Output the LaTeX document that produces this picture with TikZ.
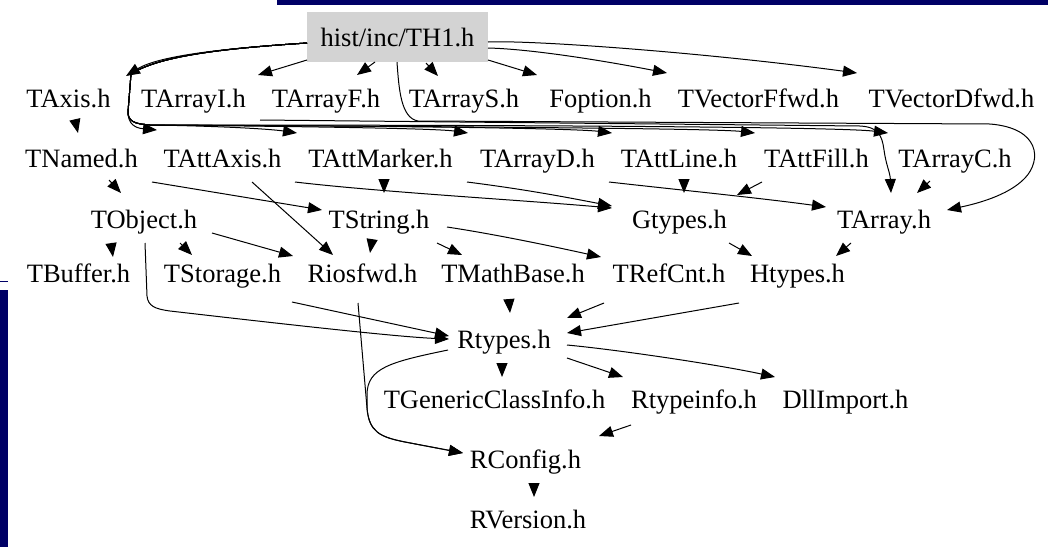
\documentclass[tikz,border=0pt]{standalone}
\usepackage{fontspec}
\setmainfont{Liberation Serif}
\usetikzlibrary{arrows.meta,calc}
\definecolor{navy}{HTML}{000066}
\definecolor{boxgray}{HTML}{D3D3D3}
\begin{document}
\begin{tikzpicture}[x=1pt,y=-1pt,
  lbl/.style={anchor=base,inner sep=0pt,font=\rmfamily\fontsize{26.5}{30}\selectfont},
  edge/.style={line width=1pt,-{Triangle[length=14pt,width=11pt]}},
  deco/.style={fill=navy},
  routeA/.style={insert path={.. controls (230,48) and (160,55) .. (131,74) -- (128,112) .. controls (128,121) and (134,124) .. (150,125)}}]
\useasboundingbox (0,0) rectangle (1048,549);
% page decorations
\fill[deco] (277,0) rectangle (1048,5);
\fill[deco] (0,290) rectangle (7.5,547);
\draw[navy,line width=1pt] (0,281.5) -- (8,281.5);

% nodes
\node[fill=boxgray,minimum width=181pt,minimum height=50pt,inner sep=0pt,font=\rmfamily\fontsize{26.5}{30}\selectfont] (th1) at (397.5,37) {hist/inc/TH1.h};

\node[lbl] (taxis)    at (68.5,107)  {TAxis.h};
\node[lbl] (tarrayi)  at (193.5,107) {TArrayI.h};
\node[lbl] (tarrayf)  at (326,107)   {TArrayF.h};
\node[lbl] (tarrays)  at (464,107)   {TArrayS.h};
\node[lbl] (foption)  at (600.5,107) {Foption.h};
\node[lbl] (tvectorf) at (758.5,107) {TVectorFfwd.h};
\node[lbl] (tvectord) at (951.5,107) {TVectorDfwd.h};

\node[lbl] (tnamed)     at (81.5,167)  {TNamed.h};
\node[lbl] (tattaxis)   at (222.5,167) {TAttAxis.h};
\node[lbl] (tattmarker) at (380.5,167) {TAttMarker.h};
\node[lbl] (tarrayd)    at (537.5,167) {TArrayD.h};
\node[lbl] (tattline)   at (679,167)   {TAttLine.h};
\node[lbl] (tattfill)   at (816.5,167) {TAttFill.h};
\node[lbl] (tarrayc)    at (955,167)   {TArrayC.h};

\node[lbl] (tobject) at (144,228)   {TObject.h};
\node[lbl] (tstring) at (379,228)   {TString.h};
\node[lbl] (gtypes)  at (679.5,228) {Gtypes.h};
\node[lbl] (tarray)  at (884,228)   {TArray.h};

\node[lbl] (tbuffer)   at (78.5,282)  {TBuffer.h};
\node[lbl] (tstorage)  at (222.5,282) {TStorage.h};
\node[lbl] (riosfwd)   at (362.5,282) {Riosfwd.h};
\node[lbl] (tmathbase) at (513,282)   {TMathBase.h};
\node[lbl] (trefcnt)   at (669,282)   {TRefCnt.h};
\node[lbl] (htypes)    at (797.5,282) {Htypes.h};

\node[lbl] (rtypes) at (504,348) {Rtypes.h};

\node[lbl] (tgeneric)  at (494.5,408) {TGenericClassInfo.h};
\node[lbl] (rtypeinfo) at (694,408)   {Rtypeinfo.h};
\node[lbl] (dllimport) at (845.5,408) {DllImport.h};

\node[lbl] (rconfig)  at (525.5,468) {RConfig.h};
\node[lbl] (rversion) at (528,528)   {RVersion.h};

% TH1 -> row 1
\draw[edge] ($(th1.center)+(-90.5,6)$) .. controls (230,48) and (160,55) .. ($(taxis.base)+(57.5,-31)$);
\draw[edge] ($(th1.center)+(-90.5,23)$) -- ($(tarrayi.base)+(64.5,-32)$);
\draw[edge] ($(th1.center)+(-22.5,25)$) -- ($(tarrayf.base)+(31,-32)$);
\draw[edge] ($(th1.center)+(28.5,26)$) -- ($(tarrays.base)+(-26,-31)$);
\draw[edge] ($(th1.center)+(90.5,23)$) -- ($(foption.base)+(-63.5,-32)$);
\draw[edge] ($(th1.center)+(90.5,11)$) .. controls (530,49) and (600,60) .. ($(tvectorf.base)+(-91.5,-34)$);
\draw[edge] ($(th1.center)+(90.5,5)$) .. controls (530,40) and (700,52) .. ($(tvectord.base)+(-94.5,-34)$);

% TH1 -> row 2 (routed round TAxis.h)
\draw[edge] ($(th1.center)+(-90.5,6)$) .. controls (230,48) and (160,55) .. (131,74) -- (128,112) .. controls (128,124) and (135,128) .. ($(tattaxis.base)+(-65.5,-37)$);
\draw[edge] ($(th1.center)+(-90.5,6)$) [routeA] .. controls (220,126) and (270,129) .. ($(tattmarker.base)+(-83.5,-34)$);
\draw[edge] ($(th1.center)+(-90.5,6)$) [routeA] .. controls (360,127) and (440,129) .. ($(tarrayd.base)+(-69.5,-34)$);
\draw[edge] ($(th1.center)+(-90.5,6)$) [routeA] .. controls (450,126) and (580,129) .. ($(tattline.base)+(-67,-34)$);
\draw[edge] ($(th1.center)+(-90.5,6)$) [routeA] .. controls (550,127) and (720,129) .. ($(tattfill.base)+(-61.5,-34)$);
\draw[edge] ($(th1.center)+(-90.5,6)$) [routeA] .. controls (650,125) and (850,128) .. ($(tarrayc.base)+(-67,-34)$);
\draw[edge] ($(th1.south)+(-0.5,0)$) .. controls (399,90) and (401,118) .. (418,121) -- (990,124) .. controls (1040,128) and (1042,160) .. (1025,178) .. controls (1008,196) and (975,204) .. ($(tarray.base)+(63,-18)$);
\draw[edge] ($(tarrayf.base)+(-66,13)$) -- (860,126) .. controls (878,127) and (882,135) .. (884,150) .. controls (886,165) and (890,172) .. ($(tarray.base)+(7,-35)$);

% row 1 -> row 2
\draw[edge] ($(taxis.base)+(6.5,13)$) -- ($(tnamed.base)+(-3.5,-34)$);

% row 2 -> row 3
\draw[edge] ($(tnamed.base)+(27.5,13)$) -- ($(tobject.base)+(-23,-35)$);
\draw[edge] ($(tnamed.base)+(70.5,15)$) -- ($(tstring.base)+(-57,-18)$);
\draw[edge] ($(tattaxis.base)+(29.5,15)$) -- ($(riosfwd.base)+(-29.5,-27)$);
\draw[edge] ($(tattmarker.base)+(3.5,13)$) -- ($(tstring.base)+(5,-35)$);
\draw[edge] ($(tattmarker.base)+(-85.5,15)$) .. controls (380,192) and (520,200) .. ($(gtypes.base)+(-67.5,-20)$);
\draw[edge] ($(tarrayd.base)+(-70.5,15)$) .. controls (530,190) and (570,198) .. ($(gtypes.base)+(-67.5,-22)$);
\draw[edge] ($(tarrayd.base)+(71.5,15)$) .. controls (680,190) and (760,198) .. ($(tarray.base)+(-58,-21)$);
\draw[edge] ($(tattline.base)+(5,13)$) -- ($(gtypes.base)+(4.5,-35)$);
\draw[edge] ($(tattfill.base)+(-54.5,15)$) -- ($(gtypes.base)+(57.5,-33)$);
\draw[edge] ($(tarrayc.base)+(-25,14)$) -- ($(tarray.base)+(33,-35)$);

% row 3 -> row 4
\draw[edge] ($(tobject.base)+(-33,15)$) -- ($(tbuffer.base)+(34.5,-25)$);
\draw[edge] ($(tobject.base)+(36,15)$) -- ($(tstorage.base)+(-30.5,-27)$);
\draw[edge] ($(tobject.base)+(68,5)$) -- ($(riosfwd.base)+(-69.5,-26)$);
\draw[edge] ($(tstring.base)+(-7,12)$) -- ($(riosfwd.base)+(7.5,-29)$);
\draw[edge] ($(tstring.base)+(58,15)$) -- ($(tmathbase.base)+(-51,-27)$);
\draw[edge] ($(tstring.base)+(68,-1)$) .. controls (500,235) and (560,248) .. ($(trefcnt.base)+(-68,-25)$);
\draw[edge] ($(gtypes.base)+(49.5,15)$) -- ($(htypes.base)+(-45.5,-26)$);
\draw[edge] ($(tarray.base)+(-33,15)$) -- ($(htypes.base)+(38.5,-26)$);

% row 4 -> Rtypes
\draw[edge] ($(tobject.base)+(1,15)$) -- (147,296) .. controls (148,306) and (155,309) .. (170,311) .. controls (300,326) and (400,337) .. ($(rtypes.base)+(-55,-9)$);
\draw[edge] ($(tstorage.base)+(69.5,20)$) -- ($(rtypes.base)+(-55,-12)$);
\draw[edge] ($(tmathbase.base)+(-4,18)$) -- ($(rtypes.base)+(6,-35)$);
\draw[edge] ($(trefcnt.base)+(-65,21)$) -- ($(rtypes.base)+(63,-30)$);
\draw[edge] ($(htypes.base)+(-58.5,21)$) -- ($(rtypes.base)+(63,-15)$);

% to RConfig
\draw[edge] ($(riosfwd.base)+(-4.5,21)$) -- (367,408) .. controls (369,432) and (380,437) .. (405,442) -- ($(rconfig.base)+(-62.5,-15)$);
\draw[edge] ($(rtypes.base)+(-56,2)$) .. controls (390,362) and (367,368) .. (367,395) -- (367,408) .. controls (369,432) and (380,437) .. (405,442) -- ($(rconfig.base)+(-62.5,-15)$);

% Rtypes -> row 6
\draw[edge] ($(rtypes.base)+(-2,16)$) -- ($(tgeneric.base)+(7.5,-31)$);
\draw[edge] ($(rtypes.base)+(63,10)$) -- ($(rtypeinfo.base)+(-71,-31)$);
\draw[edge] ($(rtypes.base)+(63,-3)$) .. controls (620,350) and (720,365) .. ($(dllimport.base)+(-70.5,-31)$);

% row 6 -> RConfig -> RVersion
\draw[edge] ($(rtypeinfo.base)+(-63,17)$) -- ($(rconfig.base)+(73.5,-32)$);
\draw[edge] ($(rconfig.base)+(8.5,15)$) -- ($(rversion.base)+(6,-31)$);
\end{tikzpicture}
\end{document}
